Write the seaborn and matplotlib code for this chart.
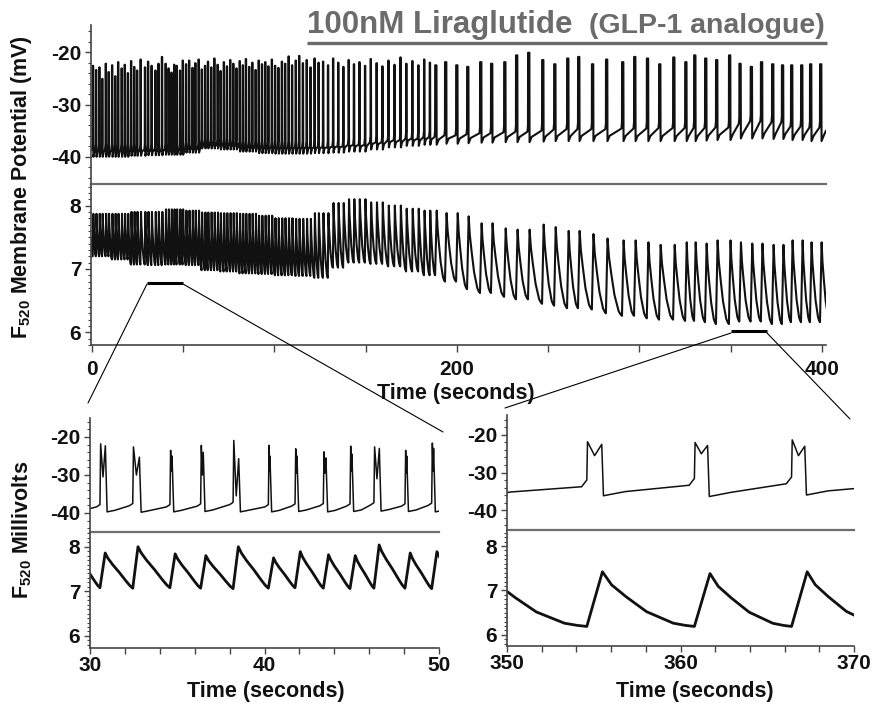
import numpy as np
import pandas as pd
import matplotlib
matplotlib.use("Agg")
import matplotlib.pyplot as plt
from matplotlib.lines import Line2D
import seaborn as sns

W, H = 873, 708

# ---------------------------------------------------------------- overview
# spike (burst) onset times
spike_times = [
    0.4, 2.1, 3.9, 5.5, 7.4, 9.0, 10.9, 12.6, 14.2, 16.1, 17.8, 19.5, 21.3,
    23.0, 24.6, 26.5, 28.9,
    30.6, 32.5, 34.6, 36.3, 38.2, 40.2, 41.8, 43.4, 44.9, 46.3, 48.1, 49.6,
    51.4, 53.1, 54.9, 56.5, 58.3, 60.0, 61.8, 63.4, 65.2, 66.9, 68.7, 70.3,
    72.1, 73.8, 75.6, 77.3, 79.0, 80.8, 82.5, 84.2, 86.0, 87.7, 89.5, 91.2,
    93.0, 94.8, 96.5, 98.4, 100.2, 102.0, 103.9, 105.7, 107.6, 109.5, 111.5,
    113.4, 115.4, 117.5, 119.6, 121.8, 124.0,
    126.5, 129.2, 132.0, 134.8, 137.6, 140.5, 143.4, 146.4, 149.5, 152.6,
    155.8, 159.0, 162.3, 165.6, 168.9, 172.1, 175.4, 178.7, 181.9, 185.0,
    188.0, 193.4, 199.5, 205.5, 212.6, 218.6, 225.8, 232.3, 238.9, 246.6,
    253.2, 260.3, 266.3, 273.9, 281.6, 290.4, 297.0, 304.0, 310.7, 318.4,
    325.0, 329.9, 335.9, 341.9, 349.0, 354.7, 360.9, 366.5, 372.6, 378.0,
    383.0, 388.5, 393.4, 398.9,
]
spike_peaks = [
    -22.6, -23.4, -22.9, -25.1, -22.2, -23.8, -22.5, -24.6, -21.9, -23.1,
    -22.4, -24.0, -21.7, -22.8, -23.5, -21.4, -22.9,
    -21.8, -22.6, -23.5, -22.2, -20.9, -22.2, -23.1, -23.9, -22.4, -22.6,
    -23.5, -21.6,
    -22.3, -21.6, -23.0, -22.1, -21.4, -23.3, -22.6, -21.8, -22.9, -21.2,
    -22.4, -23.6, -21.9, -22.7, -21.5, -22.2, -23.1, -21.7, -22.5, -21.3,
    -22.8, -22.0, -23.4, -21.6, -22.3, -21.9, -22.7, -21.4, -22.6, -23.0,
    -21.8, -22.2, -20.8, -22.5, -21.6, -20.7, -22.1, -21.5, -22.9, -21.2,
    -22.0,
    -21.8, -22.5, -21.2, -22.0, -22.8, -21.5, -22.3, -21.9, -22.6, -21.3,
    -22.1, -22.7, -21.6, -22.4, -21.0, -22.2, -21.7, -22.5, -21.4, -22.0,
    -22.5, -21.9, -22.5, -22.8, -21.9, -22.2, -21.9, -20.6, -20.1, -21.5,
    -22.3, -21.2, -20.9, -22.3, -21.4, -21.9, -20.9, -21.2, -22.3, -21.0,
    -21.9, -20.6, -21.2, -21.5, -20.6, -22.2, -22.8, -21.9, -22.3, -22.5,
    -22.5, -22.5, -22.3, -22.3,
]

# levels per 10 s bin (0, 10, ... 400 s)
vm_ahp_bins = [
    -40.0, -40.0, -39.8, -39.7, -39.6, -39.2, -38.4, -38.6, -39.0, -39.3,
    -39.4, -39.4, -39.3, -39.2, -39.0, -38.6, -38.2, -37.9, -37.7, -37.5,
    -37.4, -37.3, -37.2, -37.2, -37.1, -37.0, -37.0, -37.0, -37.0, -37.0,
    -37.0, -37.0, -37.0, -36.9, -36.8, -36.5, -36.5, -36.6, -36.8, -37.0,
    -37.0,
]
vm_pre_bins = [
    -37.5, -37.5, -37.6, -37.6, -37.5, -37.2, -36.6, -36.6, -37.0, -37.0,
    -37.0, -37.0, -37.0, -36.8, -36.5, -36.0, -35.6, -35.3, -35.0, -34.7,
    -34.5, -34.3, -34.1, -34.0, -33.8, -33.6, -33.5, -33.5, -33.5, -33.4,
    -33.4, -33.3, -33.3, -33.3, -33.2, -32.5, -32.0, -32.2, -33.0, -33.2,
    -33.2,
]
f_trough_bins = [
    7.20, 7.15, 7.07, 7.06, 7.07, 7.06, 6.98, 6.96, 6.93, 6.92,
    6.90, 6.89, 6.86, 7.02, 7.10, 7.08, 7.04, 6.96, 6.90, 6.80,
    6.68, 6.62, 6.56, 6.52, 6.45, 6.42, 6.38, 6.36, 6.30, 6.26,
    6.22, 6.20, 6.18, 6.16, 6.13, 6.17, 6.17, 6.13, 6.16, 6.16,
    6.16,
]
f_peak_bins = [
    7.87, 7.87, 7.90, 7.90, 7.94, 7.92, 7.89, 7.88, 7.87, 7.84,
    7.80, 7.79, 7.88, 8.04, 8.10, 8.05, 8.00, 7.95, 7.92, 7.88,
    7.83, 7.72, 7.64, 7.62, 7.70, 7.66, 7.60, 7.55, 7.48, 7.45,
    7.42, 7.38, 7.42, 7.40, 7.45, 7.42, 7.40, 7.38, 7.45, 7.42,
    7.40,
]
seg_edges = [0, 186, 403]       # fast firing / slow firing
seg_width = [0.3, 0.8]          # burst width (s)
seg_rec = [0.7, 1.2]            # AHP recovery time (s)
seg_rise = [0.35, 0.9]          # F520 rise time (s)

# ---------------------------------------------------------------- zoom 30-50 s
zoom_left = [30, 50]
zl_start = [28.90, 30.57, 32.45, 34.58, 36.34, 38.20, 40.22, 41.75, 43.37,
            44.90, 46.27, 48.05, 49.58, 51.40]
zl_end = [29.20, 30.92, 32.87, 34.74, 36.53, 38.56, 40.35, 41.90, 43.56,
          45.05, 46.62, 48.19, 49.73, 51.60]
zl_peak = [-22.9, -21.8, -22.6, -23.5, -22.2, -20.9, -22.2, -23.1, -23.9,
           -22.4, -22.6, -23.5, -21.6, -22.3]
zl_peak2 = [-24.0, -22.3, -25.3, -25.0, -24.0, -25.7, -25.0, -25.0, -25.5,
            -24.5, -23.0, -25.0, -23.0, -24.0]
zl_dip = [-30.0, -30.5, -30.0, -29.0, -30.0, -35.5, -29.0, -29.5, -29.5,
          -29.0, -31.0, -29.5, -29.0, -30.0]
zl_pre = [-37.6, -37.8, -37.5, -37.8, -37.6, -37.2, -37.8, -37.6, -37.5,
          -37.6, -37.3, -37.6, -37.4, -37.5]
zl_ahp = [-39.6, -39.7, -39.8, -39.7, -39.6, -39.7, -39.7, -39.6, -39.7,
          -39.6, -39.5, -39.6, -39.7, -39.6]
zl_fpeak = [7.90, 7.86, 8.00, 7.84, 7.80, 8.00, 7.75, 7.89, 7.82, 7.80,
            8.04, 7.86, 7.89, 7.85]
zl_ftrough = [7.10, 7.08, 7.07, 7.08, 7.07, 7.06, 7.07, 7.08, 7.07, 7.06,
              7.07, 7.07, 7.06, 7.08]

# ---------------------------------------------------------------- zoom 350-370 s
zoom_right = [350, 370]
zr_start = [348.1, 354.6, 360.8, 366.4, 372.0]
zr_end = [348.9, 355.5, 361.6, 367.2, 372.8]
zr_peak = [-20.6, -21.8, -22.0, -21.3, -21.5]
zr_peak2 = [-22.5, -22.5, -22.8, -23.0, -22.5]
zr_dip = [-26.0, -25.5, -25.0, -25.5, -25.5]
zr_pre = [-32.0, -32.0, -31.6, -31.2, -31.8]
zr_ahp = [-36.3, -36.2, -36.4, -36.0, -36.3]
zr_fpeak = [7.40, 7.42, 7.38, 7.42, 7.40]
zr_ftrough = [6.15, 6.19, 6.19, 6.19, 6.20]

# decay of the F520 signal after each event (fraction of interval, of amplitude)
decay_fast = ([0.1, 0.27, 0.52, 0.77, 0.9], [0.85, 0.67, 0.44, 0.19, 0.07])
decay_slow = ([0.1, 0.26, 0.48, 0.77, 0.9], [0.76, 0.54, 0.27, 0.06, 0.02])


def vm_table(starts, ends, peaks, peaks2, dips, pres, ahps, recs,
             lead, lift, bump, t0, v0, t1, v1):
    t, v = [t0], [v0]
    for s, e, p, p2, d, pre, ahp, rec in zip(starts, ends, peaks, peaks2,
                                             dips, pres, ahps, recs):
        t += [s - lead, s, s + 0.04, (s + e) / 2, e - 0.04, e + 0.06, e + rec]
        v += [pre - lift, pre, p, d, p2, ahp, ahp + bump]
    t.append(t1)
    v.append(v1)
    return pd.DataFrame({"t": t, "v": v})


def f_table(starts, rises, peaks, troughs, decay, t0, v0):
    t, v = [t0], [v0]
    n = len(starts)
    for i in range(n):
        s = starts[i]
        tp = s + rises[i]
        if i + 1 < n:
            tn, qn = starts[i + 1], troughs[i + 1]
        else:
            tn, qn = s + (s - starts[i - 1]), troughs[i]
        t += [s, tp]
        v += [troughs[i], peaks[i]]
        for fr, amp in zip(*decay):
            t.append(tp + fr * (tn - tp))
            v.append(qn + (peaks[i] - qn) * amp)
    return pd.DataFrame({"t": t, "v": v})


# overview tables built from the values above
seg = [int(np.searchsorted(seg_edges, s, side="right") - 1) for s in spike_times]
b = [int(s // 10) for s in spike_times]
ov_vm = vm_table(spike_times,
                 [s + seg_width[k] for s, k in zip(spike_times, seg)],
                 spike_peaks, spike_peaks, spike_peaks,
                 [vm_pre_bins[i] for i in b], [vm_ahp_bins[i] for i in b],
                 [seg_rec[k] for k in seg],
                 0.3, 1.2, 1.0, -0.6, -38.5, 402.2, -35.0)
ov_f = f_table(spike_times, [seg_rise[k] for k in seg],
               [f_peak_bins[i] for i in b], [f_trough_bins[i] for i in b],
               decay_slow, -0.6, 7.5)

zl_vm = vm_table(zl_start, zl_end, zl_peak, zl_peak2, zl_dip, zl_pre, zl_ahp,
                 [0.5] * len(zl_start), 0.2, 0.6, 0.4, 28.0, -38.5, 52.0, -39.0)
zl_f = f_table(zl_start, [0.3] * len(zl_start), zl_fpeak, zl_ftrough,
               decay_fast, 28.0, 7.3)
zr_vm = vm_table(zr_start, zr_end, zr_peak, zr_peak2, zr_dip, zr_pre, zr_ahp,
                 [1.3] * len(zr_start), 0.3, 1.8, 1.1, 347.0, -34.0, 374.0, -35.0)
zr_f = f_table(zr_start, [0.9] * len(zr_start), zr_fpeak, zr_ftrough,
               decay_slow, 347.0, 6.3)

# ---------------------------------------------------------------- drawing
sns.set_theme(style="ticks")
plt.rcParams["font.family"] = ["Liberation Sans", "DejaVu Sans"]
plt.rcParams["font.weight"] = "bold"
plt.rcParams["axes.unicode_minus"] = False
plt.rcParams["mathtext.fontset"] = "custom"
plt.rcParams["mathtext.rm"] = "Liberation Sans:bold"
plt.rcParams["mathtext.it"] = "Liberation Sans:bold"
plt.rcParams["mathtext.bf"] = "Liberation Sans:bold"

SPINE = "#444444"
DIVIDER = "#6e6e6e"
GREY = "#6b6b6b"
INK = "#111111"
TICK = 15

fig = plt.figure(figsize=(W / 100, H / 100), dpi=100)


def add_ax(x0, y0, x1, y1):
    ax = fig.add_axes([x0 / W, 1 - y1 / H, (x1 - x0) / W, (y1 - y0) / H])
    ax.set_facecolor("none")
    return ax


def style(ax, xlim, ylim, major, minor, is_top):
    ax.set_xlim(xlim)
    ax.set_ylim(ylim)
    ax.set_xlabel("")
    ax.set_ylabel("")
    ax.spines["top"].set_visible(False)
    ax.spines["right"].set_visible(False)
    ax.spines["left"].set_color(SPINE)
    ax.spines["left"].set_linewidth(1.2)
    ax.set_yticks(major)
    ax.set_yticks(minor, minor=True)
    ax.set_yticklabels([str(m) for m in major])
    ax.tick_params(axis="y", which="major", length=4, width=1, color=SPINE,
                   labelsize=TICK, labelcolor=INK, pad=3)
    ax.tick_params(axis="y", which="minor", length=2.5, width=0.8, color=SPINE)
    if is_top:
        ax.spines["bottom"].set_color(DIVIDER)
        ax.spines["bottom"].set_linewidth(1.6)
        ax.tick_params(axis="x", which="both", bottom=False, labelbottom=False)
    else:
        ax.spines["bottom"].set_color(SPINE)
        ax.spines["bottom"].set_linewidth(1.2)


vm_major = [-40, -30, -20]
vm_minor = list(range(-44, -15, 2))
f_major = [6, 7, 8]
f_minor = [round(5.8 + 0.1 * k, 1) for k in range(26)]

panels = [
    # (vm box, f box, xlim, vm ylim, f ylim, vm data, f data, line widths)
    ((91, 25, 826, 184), (91, 184, 826, 345), (-0.55, 402.2),
     (-45.2, -14.8), (5.83, 8.34), ov_vm, ov_f, 1.5, 1.5),
    ((90, 418, 439, 532), (90, 532, 439, 648), tuple(zoom_left),
     (-45.0, -15.0), (5.73, 8.33), zl_vm, zl_f, 1.1, 2.0),
    ((507, 415, 854, 530), (507, 530, 854, 646), tuple(zoom_right),
     (-45.33, -14.67), (5.75, 8.36), zr_vm, zr_f, 1.1, 2.0),
]

f_axes = []
for vbox, fbox, xlim, vyl, fyl, vdf, fdf, lwv, lwf in panels:
    axv = add_ax(*vbox)
    axf = add_ax(*fbox)
    sns.lineplot(data=vdf, x="t", y="v", ax=axv, color=INK, linewidth=lwv,
                 estimator=None, sort=False, legend=False)
    sns.lineplot(data=fdf, x="t", y="v", ax=axf, color=INK, linewidth=lwf,
                 estimator=None, sort=False, legend=False)
    style(axv, xlim, vyl, vm_major, vm_minor, True)
    style(axf, xlim, fyl, f_major, f_minor, False)
    f_axes.append(axf)

ax_ov, ax_zl, ax_zr = f_axes
ax_ov.set_xticks([0, 200, 400])
ax_ov.set_xticks([50, 100, 150, 250, 300, 350], minor=True)
ax_ov.tick_params(axis="x", which="both", length=5, width=1, color=SPINE,
                  labelsize=TICK, labelcolor=INK, pad=6)
for ax, lo in ((ax_zl, 30), (ax_zr, 350)):
    ax.set_xticks([lo, lo + 10, lo + 20])
    ax.set_xticks([lo + k for k in range(2, 20, 2) if k != 10], minor=True)
    ax.tick_params(axis="x", which="both", length=4, width=1, color=SPINE,
                   labelsize=TICK, labelcolor=INK, pad=2)

# zoom markers on the overview and the lines to the zoom panels
ax_ov.plot(zoom_left, [6.78, 6.78], color="black", lw=2.2, solid_capstyle="butt")
ax_ov.plot(zoom_right, [6.02, 6.02], color="black", lw=2.2, solid_capstyle="butt")


def fig_line(p0, p1, **kw):
    fig.add_artist(Line2D([p0[0] / W, p1[0] / W], [1 - p0[1] / H, 1 - p1[1] / H],
                          transform=fig.transFigure, **kw))


for a, c in (((147, 284), (88, 403)), ((183, 284), (443, 432)),
             ((731, 333), (505, 408)), ((767, 333), (850, 419))):
    fig_line(a, c, color="black", lw=0.8)

# title
fig.text(307 / W, 1 - 33 / H, "100nM Liraglutide", fontsize=22.5,
         color=GREY, ha="left", va="baseline", weight="bold")
fig.text(825 / W, 1 - 33 / H, "(GLP-1 analogue)", fontsize=20.5,
         color=GREY, ha="right", va="baseline", weight="bold")
fig_line((307, 42.7), (827, 42.7), color=GREY, lw=2.4, solid_capstyle="butt")

# axis titles
fig.text(22 / W, 1 - 187 / H, r"F$_{520}$ Membrane Potential (mV)",
         rotation=90, ha="center", va="center", fontsize=15.5, color=INK)
fig.text(22 / W, 1 - 530 / H, r"F$_{520}$ Millivolts",
         rotation=90, ha="center", va="center", fontsize=15.5, color=INK)
fig.text(456 / W, 1 - 393 / H, "Time (seconds)", ha="center", va="center",
         fontsize=15.5, color=INK)
fig.text(266 / W, 1 - 692 / H, "Time (seconds)", ha="center", va="center",
         fontsize=15.5, color=INK)
fig.text(695 / W, 1 - 692 / H, "Time (seconds)", ha="center", va="center",
         fontsize=15.5, color=INK)

fig.savefig("out.png", dpi=100)
